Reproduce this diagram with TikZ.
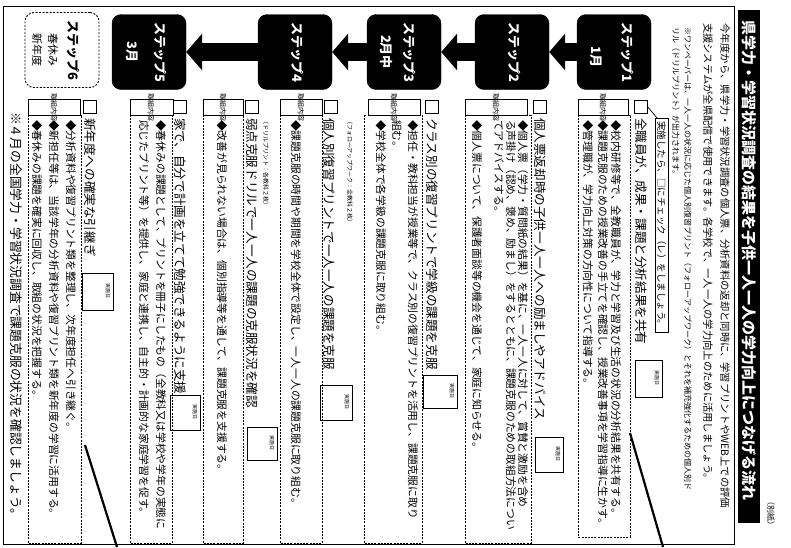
\documentclass[tikz,border=0pt]{standalone}
\usepackage{fontspec}
\setmainfont{Noto Sans CJK JP}
\usetikzlibrary{arrows.meta}
\begin{document}
\begin{tikzpicture}[x=1pt,y=-1pt,
  vt/.style={rotate=-90,anchor=west,inner sep=0pt,outer sep=0pt},
  vc/.style={rotate=-90,anchor=center,inner sep=0pt,outer sep=0pt},
  stepbox/.style={draw=black,fill=black,rounded corners=9pt,minimum width=74pt,minimum height=75pt,inner sep=0pt},
  flowarrow/.style={line width=18pt,-{Triangle[length=16pt,width=36pt]}},
  tab/.style={draw=black,line width=0.6pt},
  cbox/.style={draw=black,line width=0.8pt,minimum size=13pt,inner sep=0pt},
  ddbox/.style={draw=black,line width=0.6pt,dash pattern=on 2pt off 1.2pt},
  datebox/.style={draw=black,line width=0.9pt},
  fb/.style={font=\fontsize{10.8}{11}\selectfont},
  fh/.style={font=\fontsize{12.6}{13}\selectfont},
  fs/.style={font=\fontsize{13}{13}\selectfont\bfseries,text=white},
  ftab/.style={font=\fontsize{7}{7}\selectfont},
  fdate/.style={font=\fontsize{5}{5}\selectfont}]
\useasboundingbox (0,0) rectangle (791,547);
\fill[white] (0,0) rectangle (791,547);
% frame
\draw[line width=0.8pt] (3,6) rectangle (734,544);
% title
\fill[black] (738,10) rectangle (760,523);
\node[vt,font=\fontsize{15}{15}\selectfont\bfseries,text=white] (title) at (749,20) {県学力・学習状況調査の結果を子供一人一人の学力向上につなげる流れ};
\node[vt,font=\fontsize{8}{8}\selectfont] (bessi) at (771,497) {（別紙）};
% intro
\node[vt,font=\fontsize{10.3}{11}\selectfont] (in1) at (725,23) {今年度から、県学力・学習状況調査の個人票、分析資料の返却と同時に、学習プリントやWEB上での評価};
\node[vt,font=\fontsize{10.3}{11}\selectfont] (in2) at (708,23) {支援システムが全県配信で使用できます。各学校で、一人一人の学力向上のために活用しましょう。};
\node[vt,font=\fontsize{8}{8}\selectfont] (nt1) at (688,27) {※ワンペーパーは、一人一人の状況に応じた個人別復習プリント（フォローアップワーク）とそれを補充強化するための個人別ド};
\node[vt,font=\fontsize{8}{8}\selectfont] (nt2) at (676,27) {リル（ドリルプリント）が出力されます。};
% check note
\draw[line width=0.7pt] (655,118) rectangle (668,332);
\node[vt,font=\fontsize{9.5}{10}\selectfont] (chk) at (661.5,121) {実施したら、□にチェック（レ）をしましょう。};
\draw[line width=0.7pt] (657,118) -- (647,106);
% steps
\node[stepbox] (s1) at (614,52) {};
\node[stepbox] (s2) at (512,52) {};
\node[stepbox] (s3) at (404,52) {};
\node[stepbox] (s4) at (295,52) {};
\node[stepbox] (s5) at (149,52) {};
\node[stepbox,fill=white,dash pattern=on 2pt off 1.5pt,line width=0.9pt] (s6) at (62,50) {};
\node[vc,fs] (s1a) at (627,52) {ステップ1};
\node[vc,fs] (s1b) at (596,57) {1月};
\node[vc,fs] (s2a) at (514,52) {ステップ2};
\node[vc,fs] (s3a) at (409,52) {ステップ3};
\node[vc,fs] (s3b) at (386,52) {2月中};
\node[vc,fs] (s4a) at (297,52) {ステップ4};
\node[vc,fs] (s5a) at (160,52) {ステップ5};
\node[vc,fs] (s5b) at (132,52) {3月};
\node[vc,fs,text=black] (s6a) at (73,50) {ステップ6};
\node[vc,fs,text=black,font=\fontsize{11}{11}\selectfont] (s6b) at (53,50) {春休み};
\node[vc,fs,text=black,font=\fontsize{11}{11}\selectfont] (s6c) at (37,50) {新年度};
\draw[flowarrow] (s1.west) -- (s2.east);
\draw[flowarrow] (s2.west) -- (s3.east);
\draw[flowarrow] (s3.west) -- (s4.east);
\draw[flowarrow] (s4.west) -- (s5.east);
% ---------- step 1 column
\draw[tab] (578,99) rectangle (628,115);
\node[vc,ftab] (t1) at (603,107) {取組内容};
\draw[ddbox] (578,115) rectangle (630,537);
\node[cbox] (c1) at (641,107) {};
\node[vt,fh] (h1) at (641,118) {全職員が、成果・課題と分析結果を共有};
\draw[datebox] (635,360) rectangle (662,397);
\node[vc,fdate] (d1) at (657,378) {実施日};
\node[vt,fb] (b11) at (616,120) {◆校内研修等で、全教職員が、学力と学習及び生活の状況の分析結果を共有する。};
\node[vt,fb] (b12) at (603,120) {◆課題克服のための授業改善の手立てを確認し、授業改善事項を学習指導に生かす。};
\node[vt,fb] (b13) at (588,120) {◆管理職が、学力向上対策の方向性について指導する。};
% ---------- step 2 column
\draw[tab] (465,99) rectangle (527,115);
\node[vc,ftab] (t2) at (496,107) {取組内容};
\draw[ddbox] (465,115) rectangle (531,543);
\node[cbox] (c2) at (540,107) {};
\node[vt,fh] (h2) at (540,118) {個人票返却時の子供一人一人への励ましやアドバイス};
\draw[datebox] (535,437) rectangle (563,472);
\node[vc,fdate] (d2) at (558,454) {実施日};
\node[vt,fb] (b21) at (523,120) {◆個人票（学力・質問紙の結果）を基に、一人一人に対して、賞賛と激励を含め};
\node[vt,fb] (b22) at (511,120) {る声掛け（認め、褒め、励まし）をするとともに、課題克服のための取組方法につい};
\node[vt,fb] (b23) at (499,120) {てアドバイスする。};
\node[vt,fb] (b24) at (477,120) {◆個人票について、保護者面談等の機会を通じて、家庭に知らせる。};
% ---------- step 3 column
\draw[tab] (368,99) rectangle (420,115);
\node[vc,ftab] (t3) at (394,107) {取組内容};
\draw[ddbox] (364,115) rectangle (422,543);
\node[cbox] (c3) at (432,107) {};
\node[vt,fh] (h3) at (432,118) {クラス別の復習プリントで学級の課題を克服};
\draw[datebox] (423,375) rectangle (457,408);
\node[vc,fdate] (d3) at (452,391) {実施日};
\node[vt,fb] (b31) at (413,120) {◆担任・教科担当が授業等で、クラス別の復習プリントを活用し、課題克服に取り};
\node[vt,fb] (b32) at (397,120) {組む。};
\node[vt,fb] (b33) at (381,120) {◆学校全体で各学級の課題克服に取り組む。};
% ---------- step 4a column
\draw[tab] (280,99) rectangle (322,115);
\node[vc,ftab] (t4) at (301,107) {取組内容};
\draw[ddbox] (280,115) rectangle (322,543);
\node[cbox] (c4) at (331,107) {};
\node[vt,fh] (h4) at (329,118) {個人別復習プリントで一人一人の課題を克服};
\node[vt,font=\fontsize{6}{6}\selectfont] (a4) at (350,118) {（フォローアップワーク：全教科２枚）};
\draw[datebox] (320,385) rectangle (352,420);
\node[vc,fdate] (d4) at (347,402) {実施日};
\node[vt,fb] (b41) at (296,120) {◆課題克服の時間や期間を学校全体で設定し、一人一人の課題克服に取り組む。};
% ---------- step 4b column
\draw[tab] (203,99) rectangle (243,115);
\node[vc,ftab] (t4b) at (223,107) {取組内容};
\draw[ddbox] (203,115) rectangle (243,543);
\node[cbox] (c4b) at (252,107) {};
\node[vt,fh] (h4b) at (252,118) {弱点克服ドリルで一人一人の課題の克服状況を確認};
\node[vt,font=\fontsize{6}{6}\selectfont] (a4b) at (266,118) {（ドリルプリント：各教科２枚）};
\draw[datebox] (247,427) rectangle (277,460);
\node[vc,fdate] (d4b) at (272,443) {実施日};
\node[vt,fb] (b4b1) at (222,120) {◆改善が見られない場合は、個別指導等を通して、課題克服を支援する。};
% ---------- step 5 column
\draw[tab] (130,99) rectangle (173,115);
\node[vc,ftab] (t5) at (151,107) {取組内容};
\draw[ddbox] (130,115) rectangle (172,543);
\node[cbox] (c5) at (180,107) {};
\node[vt,fh] (h5) at (180,118) {家で、自分で計画を立てて勉強できるように支援};
\draw[datebox] (170,395) rectangle (200,430);
\node[vc,fdate] (d5) at (195,412) {実施日};
\node[vt,fb] (b51) at (161,120) {◆春休みの課題として、プリントを冊子にしたもの（全教科又は学校や学年の実態に};
\node[vt,fb] (b52) at (144,120) {応じたプリント等）を提供し、家庭と連携し、自主的・計画的な家庭学習を促す。};
% ---------- step 6 column
\draw[tab] (28,99) rectangle (80,115);
\node[vc,ftab] (t6) at (54,107) {取組内容};
\draw[ddbox] (28,115) rectangle (81,543);
\node[cbox] (c6) at (90,107) {};
\node[vt,fh] (h6) at (90,118) {新年度への確実な引継ぎ};
\draw[datebox] (82,273) rectangle (113,310);
\node[vc,fdate] (d6) at (108,291) {実施日};
\node[vt,fb] (b61) at (71,120) {◆分析資料や復習プリント類を整理し、次年度担任へ引き継ぐ。};
\node[vt,fb] (b62) at (54,120) {◆新担任等は、当該学年の分析資料や復習プリント類を新年度の学習に活用する。};
\node[vt,fb] (b63) at (37,120) {◆春休みの課題を確実に回収し、取組の状況を把握する。};
% bottom note
\node[vt,font=\fontsize{12.8}{13}\selectfont] (fn) at (16,112) {※４月の全国学力・学習状況調査で課題克服の状況を確認しましょう。};
% pen strokes
\draw[line width=2.2pt] (630,433) -- (663,547);
\draw[line width=2.2pt] (85,445) -- (117,547);
\end{tikzpicture}
\end{document}
